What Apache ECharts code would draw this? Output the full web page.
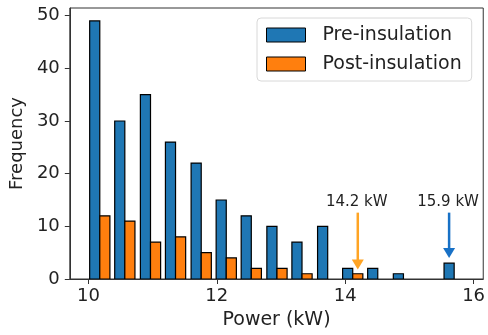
<!DOCTYPE html>
<html>
<head>
<meta charset="utf-8">
<script src="https://cdn.jsdelivr.net/npm/echarts@6/dist/echarts.min.js"></script>
<style>
  html, body { margin: 0; padding: 0; background: #fff; }
  #chart { width: 488px; height: 335px; }
</style>
</head>
<body>
<div id="chart"></div>
<script>
// Histogram bins (left edges, kW) shared by both datasets
const binLeft = [9.98, 10.37, 10.77, 11.16, 11.56, 11.95, 12.34, 12.74, 13.13, 13.53, 13.92, 14.31, 14.71, 15.10, 15.50];
const binWidth = 0.394;

// Counts per bin
const preCounts  = [49, 30, 35, 26, 22, 15, 12, 10, 7, 10, 2, 2, 1, 0, 3];
const postCounts = [12, 11, 7, 8, 5, 4, 2, 2, 1, 0, 1, 0, 0, 0, 0];

const seriesNames = ['Pre-insulation', 'Post-insulation'];

// Tick labels
const xTicks = [10, 12, 14, 16];
const yTicks = [0, 10, 20, 30, 40, 50];

// Peak power annotations
const peakLabels = ['14.2 kW', '15.9 kW'];
const peakValues = [14.2, 15.9];
const peakSeries = [1, 0];          // 0 = pre, 1 = post
const peakTipY = [1.8, 4.0];
const peakTailY = 12.6;
const peakTextY = 14.6;

const seriesColors = ['#1f77b4', '#ff7f0e'];
const arrowColors = ['#ffa424', '#1871c6'];
const FONT = 'DejaVu Sans';

function barRenderer(s) {
  return function (params, api) {
    const left = api.value(0);
    const count = api.value(1);
    if (!count) return null;
    const x0 = left + binWidth * (0.1 + 0.4 * s);
    const x1 = x0 + binWidth * 0.4;
    const p0 = api.coord([x0, 0]);
    const p1 = api.coord([x1, count]);
    return {
      type: 'rect',
      shape: { x: p0[0], y: p1[1], width: p1[0] - p0[0], height: p0[1] - p1[1] },
      style: { fill: seriesColors[s], stroke: '#000', lineWidth: 1.2 }
    };
  };
}

// Centre of the bar that holds a given value
function barCentre(value, s) {
  let i = 0;
  while (i < binLeft.length - 1 && value >= binLeft[i + 1]) i++;
  return binLeft[i] + binWidth * (0.3 + 0.4 * s);
}

function arrowRenderer(params, api) {
  const k = api.value(0);
  const x = barCentre(peakValues[k], peakSeries[k]);
  const tail = api.coord([x, peakTailY]);
  const tip = api.coord([x, peakTipY[k]]);
  const textPos = api.coord([x, peakTextY]);
  const head = 10, half = 6;
  const color = arrowColors[k];
  return {
    type: 'group',
    children: [
      { type: 'line', shape: { x1: tail[0], y1: tail[1], x2: tip[0], y2: tip[1] - head + 1 },
        style: { stroke: color, lineWidth: 2.5 } },
      { type: 'polygon', shape: { points: [[tip[0], tip[1]], [tip[0] - half, tip[1] - head], [tip[0] + half, tip[1] - head]] },
        style: { fill: color } },
      { type: 'text', style: { text: peakLabels[k], x: textPos[0] - 1, y: textPos[1], align: 'center', verticalAlign: 'middle',
        font: '15px "' + FONT + '"', fill: '#222' } }
    ]
  };
}

const chart = echarts.init(document.getElementById('chart'));
chart.setOption({
  animation: false,
  grid: { left: 67, right: 3, top: 8, bottom: 55.5, show: true, borderColor: '#333', borderWidth: 1 },
  legend: {
    orient: 'vertical', left: 257, top: 18, padding: [7, 10, 7, 9],
    itemWidth: 39, itemHeight: 14, itemGap: 9,
    backgroundColor: 'rgba(255,255,255,0.8)', borderColor: '#d8d8d8', borderWidth: 1, borderRadius: 4,
    textStyle: { fontFamily: FONT, fontSize: 19, color: '#222', lineHeight: 20, padding: [0, 0, 0, 12] },
    data: seriesNames.map((n, i) => ({
      name: n, icon: 'rect',
      itemStyle: { color: seriesColors[i], borderColor: '#000', borderWidth: 1 }
    }))
  },
  xAxis: {
    type: 'value', min: 9.71, max: 16.15,
    splitLine: { show: false },
    axisLine: { show: true, lineStyle: { color: '#333' } },
    axisTick: { show: true, length: 5, customValues: xTicks, lineStyle: { color: '#333' } },
    axisLabel: { customValues: xTicks, formatter: v => String(v), fontFamily: FONT, fontSize: 18, color: '#222', margin: 8 },
    name: 'Power (kW)', nameLocation: 'middle', nameGap: 32,
    nameTextStyle: { fontFamily: FONT, fontSize: 19, color: '#222' }
  },
  yAxis: {
    type: 'value', min: 0, max: 51.45,
    splitLine: { show: false },
    axisLine: { show: true, lineStyle: { color: '#333' } },
    axisTick: { show: true, length: 5, customValues: yTicks, lineStyle: { color: '#333' } },
    axisLabel: { customValues: yTicks, formatter: v => String(v), fontFamily: FONT, fontSize: 18, color: '#222', margin: 10 },
    name: 'Frequency', nameLocation: 'middle', nameGap: 38, nameRotate: 90,
    nameTextStyle: { fontFamily: FONT, fontSize: 18, color: '#222' }
  },
  series: [
    { name: seriesNames[0], type: 'custom', renderItem: barRenderer(0), clip: true,
      itemStyle: { color: seriesColors[0] }, encode: { x: 0, y: 1 },
      data: binLeft.map((b, i) => [b, preCounts[i]]) },
    { name: seriesNames[1], type: 'custom', renderItem: barRenderer(1), clip: true,
      itemStyle: { color: seriesColors[1] }, encode: { x: 0, y: 1 },
      data: binLeft.map((b, i) => [b, postCounts[i]]) },
    { name: 'peaks', type: 'custom', renderItem: arrowRenderer, clip: false, silent: true,
      encode: { x: -1, y: -1 }, data: peakLabels.map((_, k) => [k]) }
  ]
});
</script>
</body>
</html>
